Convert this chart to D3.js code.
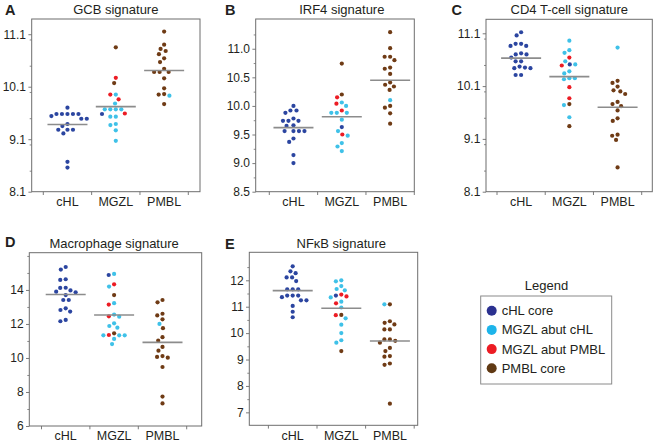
<!DOCTYPE html>
<html><head><meta charset="utf-8">
<script src="https://cdnjs.cloudflare.com/ajax/libs/d3/7.8.5/d3.min.js"></script>
<style>
body{margin:0;background:#fff;}
svg{display:block;font-family:"Liberation Sans",Arial,Helvetica,sans-serif;}
</style>
</head><body><svg id="chart" width="654" height="444"></svg>
<script>
// ---------------- DATA ----------------
const categories = ["cHL", "MGZL", "PMBL"];
const legendLabels = ["cHL core", "MGZL abut cHL", "MGZL abut PMBL", "PMBL core"];
const legendCodes = ["c", "m", "r", "p"];
// c = cHL core, m = MGZL abut cHL, r = MGZL abut PMBL, p = PMBL core

// A: GCB signature
const gcbCHL = [9.70, 9.58, 9.58, 9.58, 9.58, 9.58, 9.54, 9.49, 9.49, 9.39, 9.35, 9.28, 9.28, 9.28, 9.21, 8.67, 8.56];
const gcbMGZL = [[10.85,"p"],[10.27,"r"],[10.17,"p"],[9.95,"m"],[9.95,"r"],[9.86,"r"],[9.78,"m"],[9.67,"m"],[9.67,"m"],[9.67,"m"],[9.67,"m"],[9.59,"r"],[9.58,"c"],[9.53,"m"],[9.53,"m"],[9.39,"m"],[9.37,"m"],[9.27,"m"],[9.07,"m"]];
const gcbPMBL = [[11.15,"p"],[10.90,"p"],[10.82,"p"],[10.78,"p"],[10.72,"p"],[10.64,"p"],[10.57,"p"],[10.44,"p"],[10.38,"p"],[10.38,"p"],[10.38,"p"],[10.26,"p"],[10.07,"p"],[9.96,"p"],[9.95,"p"],[9.93,"m"],[9.77,"p"]];
const gcbMedians = [9.38, 9.72, 10.41];
const gcbTicks = [8.1, 9.1, 10.1, 11.1];

// B: IRF4 signature
const irfCHL = [10.00, 9.92, 9.92, 9.88, 9.78, 9.74, 9.74, 9.74, 9.66, 9.65, 9.56, 9.56, 9.56, 9.56, 9.43, 9.37, 9.14, 9.00];
const irfMGZL = [[10.74,"p"],[10.20,"p"],[10.15,"r"],[10.06,"m"],[10.04,"r"],[10.00,"m"],[9.92,"r"],[9.88,"m"],[9.88,"m"],[9.88,"m"],[9.76,"m"],[9.63,"c"],[9.56,"m"],[9.50,"r"],[9.48,"m"],[9.35,"m"],[9.29,"m"],[9.21,"m"]];
const irfPMBL = [[11.29,"p"],[11.01,"p"],[10.86,"p"],[10.86,"p"],[10.80,"p"],[10.67,"p"],[10.65,"p"],[10.56,"p"],[10.41,"p"],[10.37,"p"],[10.34,"p"],[10.28,"p"],[10.10,"m"],[10.00,"p"],[9.97,"p"],[9.87,"p"],[9.69,"p"]];
const irfMedians = [9.62, 9.81, 10.45];
const irfTicks = [8.5, 9.0, 9.5, 10.0, 10.5, 11.0];

// C: CD4 T-cell signature
const cd4CHL = [11.12, 11.06, 10.90, 10.90, 10.86, 10.86, 10.72, 10.70, 10.70, 10.64, 10.57, 10.57, 10.47, 10.45, 10.44, 10.44, 10.31, 10.31];
const cd4MGZL = [[10.96,"m"],[10.78,"m"],[10.73,"m"],[10.64,"r"],[10.57,"m"],[10.51,"c"],[10.51,"m"],[10.49,"r"],[10.38,"m"],[10.34,"m"],[10.25,"m"],[10.25,"m"],[10.23,"m"],[10.08,"r"],[9.87,"r"],[9.76,"p"],[9.74,"m"],[9.51,"m"],[9.34,"p"]];
const cd4PMBL = [[10.83,"m"],[10.20,"p"],[10.16,"p"],[10.09,"p"],[10.02,"p"],[10.00,"p"],[9.95,"p"],[9.80,"p"],[9.76,"p"],[9.72,"p"],[9.64,"p"],[9.49,"p"],[9.44,"p"],[9.18,"p"],[9.16,"p"],[9.08,"p"],[8.56,"p"]];
const cd4Medians = [10.63, 10.28, 9.70];
const cd4Ticks = [8.1, 9.1, 10.1, 11.1];

// D: Macrophage signature
const macCHL = [15.35, 15.20, 14.63, 14.59, 14.13, 14.12, 13.97, 13.90, 13.86, 13.70, 13.41, 13.41, 12.92, 12.82, 12.73, 12.24, 12.16];
const macMGZL = [[14.94,"m"],[14.88,"c"],[14.33,"r"],[14.20,"m"],[13.70,"p"],[13.22,"m"],[13.14,"r"],[12.55,"m"],[12.45,"r"],[12.43,"m"],[12.04,"m"],[11.88,"m"],[11.78,"m"],[11.45,"p"],[11.35,"r"],[11.33,"m"],[11.33,"m"],[11.33,"m"],[11.12,"m"],[10.82,"m"]];
const macPMBL = [[13.41,"p"],[13.27,"p"],[12.60,"p"],[12.50,"p"],[12.27,"p"],[12.00,"m"],[11.75,"p"],[11.22,"p"],[11.02,"p"],[10.65,"p"],[10.43,"p"],[10.11,"p"],[10.06,"p"],[10.02,"p"],[9.47,"p"],[7.73,"p"],[7.33,"p"]];
const macMedians = [13.73, 12.53, 10.92];
const macTicks = [6, 8, 10, 12, 14];

// E: NFkB signature
const nfkCHL = [12.53, 12.34, 12.27, 12.11, 12.11, 11.97, 11.66, 11.66, 11.66, 11.42, 11.42, 11.42, 11.36, 11.24, 11.24, 11.03, 10.81, 10.60];
const nfkMGZL = [[12.00,"m"],[11.96,"m"],[11.78,"m"],[11.67,"m"],[11.62,"m"],[11.46,"r"],[11.42,"c"],[11.39,"r"],[11.35,"m"],[11.19,"m"],[11.13,"r"],[10.97,"m"],[10.69,"p"],[10.68,"r"],[10.56,"m"],[10.32,"m"],[10.00,"m"],[9.73,"m"],[9.64,"m"],[9.32,"p"]];
const nfkPMBL = [[11.09,"p"],[11.09,"m"],[10.45,"p"],[10.39,"p"],[10.33,"p"],[10.14,"p"],[10.14,"p"],[9.76,"p"],[9.76,"p"],[9.71,"p"],[9.64,"p"],[9.44,"p"],[9.32,"p"],[9.13,"p"],[9.11,"p"],[8.85,"p"],[8.80,"p"],[7.33,"p"]];
const nfkMedians = [11.61, 10.94, 9.70];
const nfkTicks = [7, 8, 9, 10, 11, 12];

// ---------------- STYLE / LAYOUT ----------------
const colors = { c: "#2b45a0", m: "#3fc1e8", r: "#ec1c24", p: "#6f3b15" };
const legendColors = { c: "#2b3190", m: "#1db4ea", r: "#ec1c24", p: "#603913" };
const textColor = "#231f20";
const frameColor = "#6d6d6d";

const panels = [
  { letter: "A", title: "GCB signature", groups: [gcbCHL, gcbMGZL, gcbPMBL], medians: gcbMedians, ticks: gcbTicks,
    fmt: d3.format(".1f"), domain: [8.1, 11.39], minor: 0.5,
    frame: [31.7, 200, 19, 191.7], band: [43.3, 188.3], titleY: 14, letterPos: [5, 15] },
  { letter: "B", title: "IRF4 signature", groups: [irfCHL, irfMGZL, irfPMBL], medians: irfMedians, ticks: irfTicks,
    fmt: d3.format(".1f"), domain: [8.5, 11.52], minor: 0.25,
    frame: [255.7, 414.3, 19, 191.7], band: [269.3, 414.3], titleY: 14, letterPos: [225, 15] },
  { letter: "C", title: "CD4 T-cell signature", groups: [cd4CHL, cd4MGZL, cd4PMBL], medians: cd4Medians, ticks: cd4Ticks,
    fmt: d3.format(".1f"), domain: [8.1, 11.365], minor: 0.5,
    frame: [486, 652.3, 19.3, 191.7], band: [497, 641.7], titleY: 14, letterPos: [451.5, 15] },
  { letter: "D", title: "Macrophage signature", groups: [macCHL, macMGZL, macPMBL], medians: macMedians, ticks: macTicks,
    fmt: d3.format("d"), domain: [6, 16.19], minor: 1,
    frame: [29.3, 201.7, 252.7, 426], band: [41.5, 186.7], titleY: 248.3, letterPos: [5, 247.3] },
  { letter: "E", title: "NF\u03baB signature", groups: [nfkCHL, nfkMGZL, nfkPMBL], medians: nfkMedians, ticks: nfkTicks,
    fmt: d3.format("d"), domain: [6.51, 13.06], minor: 0.5,
    frame: [249.3, 417.7, 252.3, 425.3], band: [268.4, 414.2], titleY: 248.3, letterPos: [225, 249.3] }
];

const svg = d3.select("#chart");
const DOT_R = 2.1;
const SPACING = 5.5;

function swarm(points, y, d) {
  const placed = [];
  points.forEach(p => {
    const py = y(p.v);
    const near = placed.filter(q => Math.abs(q.y - py) < d);
    const cands = [0];
    near.forEach(q => {
      const dx = Math.sqrt(d * d - (q.y - py) * (q.y - py));
      cands.push(q.x + dx, q.x - dx);
    });
    cands.sort((a, b) => (Math.abs(a) - Math.abs(b)) || (a - b));
    let x = 0;
    for (const c of cands) {
      if (near.every(q => (q.x - c) * (q.x - c) + (q.y - py) * (q.y - py) >= d * d - 1e-6)) { x = c; break; }
    }
    placed.push({ x: x, y: py, t: p.t });
  });
  return placed;
}

panels.forEach(P => {
  const [fx0, fx1, fy0, fy1] = P.frame;
  const y = d3.scaleLinear().domain(P.domain).range([fy1, fy0]);
  const x = d3.scaleBand().domain(categories).range(P.band);
  const g = svg.append("g");

  // minor ticks
  const minorVals = [];
  const first = Math.ceil((P.domain[0] + 1e-9) / P.minor) * P.minor;
  for (let v = first; v <= P.domain[1]; v += P.minor) {
    const vv = +v.toFixed(4);
    if (!P.ticks.some(t => Math.abs(t - vv) < 1e-6) && Math.abs(y(vv) - fy0) > 2 && Math.abs(y(vv) - fy1) > 2) minorVals.push(vv);
  }
  const gMinor = g.append("g").attr("transform", `translate(${fx0},0)`)
    .call(d3.axisLeft(y).tickValues(minorVals).tickSize(2).tickFormat(""));
  gMinor.select(".domain").remove();
  gMinor.selectAll("line").attr("stroke", frameColor).attr("stroke-width", 0.8);

  // major y ticks
  const gy = g.append("g").attr("transform", `translate(${fx0},0)`)
    .call(d3.axisLeft(y).tickValues(P.ticks).tickSize(3.3).tickPadding(2.4).tickFormat(P.fmt));
  gy.select(".domain").remove();
  gy.selectAll("line").attr("stroke", frameColor).attr("stroke-width", 0.9);
  gy.selectAll("text").attr("font-size", 12).attr("fill", textColor).attr("font-family", null);

  // x axis labels
  const gx = g.append("g").attr("transform", `translate(0,${fy1})`)
    .call(d3.axisBottom(x).tickSize(0).tickPadding(5.5));
  gx.select(".domain").remove();
  gx.selectAll("text").attr("font-size", 12.5).attr("fill", textColor).attr("font-family", null);

  // band-boundary ticks on x
  const bounds = categories.map(c => x(c)).concat([x(categories[categories.length - 1]) + x.bandwidth()]);
  g.selectAll("line.xt").data(bounds).enter().append("line")
    .attr("x1", d => d).attr("x2", d => d).attr("y1", fy1).attr("y2", fy1 + 3.3)
    .attr("stroke", frameColor).attr("stroke-width", 0.9);

  // frame
  g.append("rect").attr("x", fx0).attr("y", fy0).attr("width", fx1 - fx0).attr("height", fy1 - fy0)
    .attr("fill", "none").attr("stroke", frameColor).attr("stroke-width", 1);

  // points
  categories.forEach((cat, i) => {
    const pts = P.groups[i].map(d => Array.isArray(d) ? { v: d[0], t: d[1] } : { v: d, t: "c" });
    const cx = x(cat) + x.bandwidth() / 2;
    const placed = swarm(pts, y, SPACING);
    g.selectAll(null).data(placed).enter().append("circle")
      .attr("cx", d => cx + d.x).attr("cy", d => d.y).attr("r", DOT_R)
      .attr("fill", d => colors[d.t]);
    // median line
    g.append("line").attr("x1", cx - 20).attr("x2", cx + 20)
      .attr("y1", y(P.medians[i])).attr("y2", y(P.medians[i]))
      .attr("stroke", "#8c8c8c").attr("stroke-width", 1.6);
  });

  // title
  const cMid = x(categories[1]) + x.bandwidth() / 2;
  g.append("text").attr("x", cMid).attr("y", P.titleY).attr("text-anchor", "middle")
    .attr("font-size", 13).attr("fill", textColor).text(P.title);
  // panel letter
  g.append("text").attr("x", P.letterPos[0]).attr("y", P.letterPos[1])
    .attr("font-size", 14.5).attr("font-weight", "bold").attr("fill", textColor).text(P.letter);
});

// legend
const lg = svg.append("g");
lg.append("text").attr("x", 546.5).attr("y", 290).attr("text-anchor", "middle")
  .attr("font-size", 13).attr("fill", textColor).text("Legend");
lg.append("rect").attr("x", 480.7).attr("y", 296).attr("width", 131).attr("height", 88)
  .attr("fill", "none").attr("stroke", "#8a8a8a").attr("stroke-width", 1);
const ly = d3.scalePoint().domain(legendLabels).range([310.7, 368.3]);
legendLabels.forEach((lab, i) => {
  lg.append("circle").attr("cx", 491.7).attr("cy", ly(lab)).attr("r", 5).attr("fill", legendColors[legendCodes[i]]);
  lg.append("text").attr("x", 501.7).attr("y", ly(lab)).attr("dy", "0.35em")
    .attr("font-size", 13).attr("fill", textColor).text(lab);
});
</script>
</body></html>
